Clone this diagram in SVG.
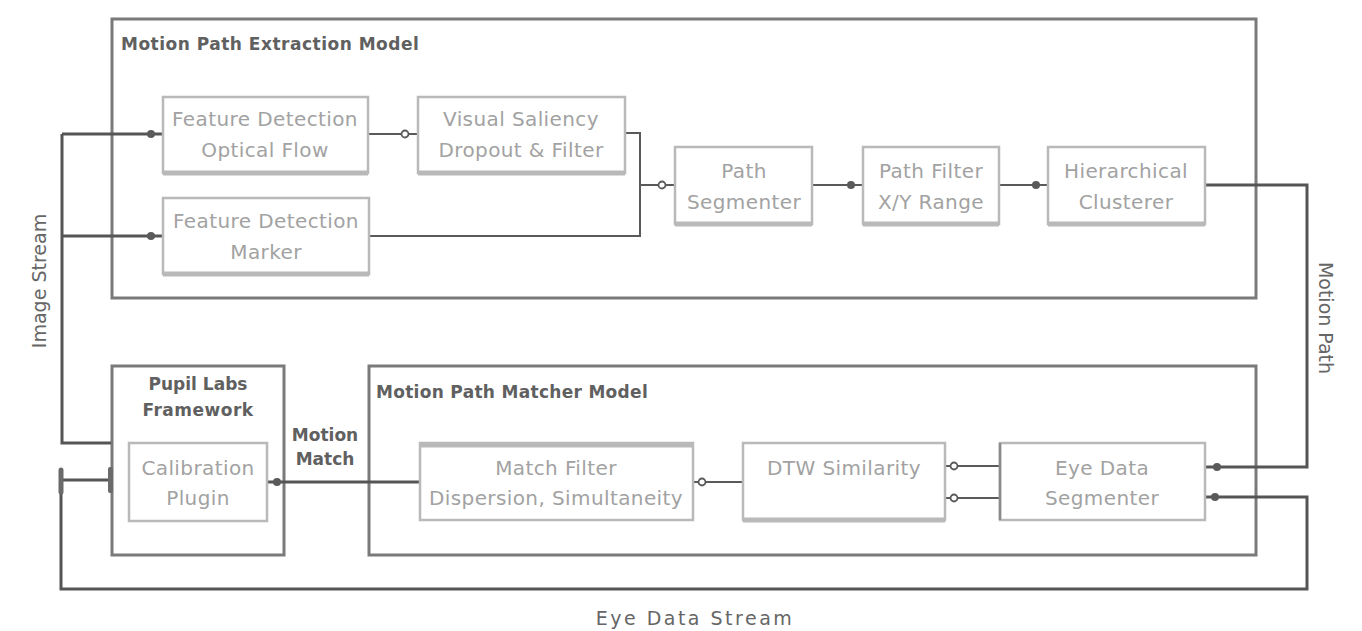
<svg xmlns="http://www.w3.org/2000/svg" width="1362" height="631" viewBox="0 0 1362 631">
  <style>
    .frame { fill: none; stroke: #7a7a7a; stroke-width: 3; }
    .block { fill: #ffffff; stroke: #b9b9b9; stroke-width: 2.5; }
    .shade { stroke: #b9b9b9; stroke-width: 5; }
    .title { font-family: "DejaVu Sans", "Liberation Sans", sans-serif; font-size: 17px; fill: #606060; font-weight: bold; }
    .label { font-family: "DejaVu Sans", "Liberation Sans", sans-serif; font-size: 20px; fill: #a2a2a2; text-anchor: middle; letter-spacing: 0.4px; }
    .side { font-family: "DejaVu Sans", "Liberation Sans", sans-serif; font-size: 19px; fill: #666666; text-anchor: middle; }
    .wire { fill: none; stroke: #5a5a5a; stroke-width: 2; }
    .wire-bold { fill: none; stroke: #555555; stroke-width: 3; }
  </style>
  <defs>
    <marker id="ball-open" viewBox="0 0 20 10" refX="20" refY="5" markerWidth="20" markerHeight="10" markerUnits="userSpaceOnUse" orient="auto">
      <circle cx="7" cy="5" r="3.5" fill="#ffffff" stroke="#5a5a5a" stroke-width="1.8"/>
    </marker>
    <marker id="ball-open-start" viewBox="0 0 20 10" refX="0" refY="5" markerWidth="20" markerHeight="10" markerUnits="userSpaceOnUse" orient="auto">
      <circle cx="9" cy="5" r="3.5" fill="#ffffff" stroke="#5a5a5a" stroke-width="1.8"/>
    </marker>
    <marker id="ball-fill" viewBox="0 0 20 10" refX="20" refY="5" markerWidth="20" markerHeight="10" markerUnits="userSpaceOnUse" orient="auto">
      <circle cx="8" cy="5" r="4" fill="#5a5a5a"/>
    </marker>
    <marker id="ball-fill-start" viewBox="0 0 20 10" refX="0" refY="5" markerWidth="20" markerHeight="10" markerUnits="userSpaceOnUse" orient="auto">
      <circle cx="10" cy="5" r="4" fill="#5a5a5a"/>
    </marker>
    <marker id="bar" viewBox="0 0 6 26" refX="3" refY="13" markerWidth="6" markerHeight="26" markerUnits="userSpaceOnUse" orient="auto">
      <rect x="0" y="0" width="5" height="26" rx="2" fill="#6a6a6a"/>
    </marker>
  </defs>

  <rect width="1362" height="631" fill="#ffffff"/>

  <!-- containers -->
  <g id="extraction-model">
    <rect class="frame" x="112" y="19" width="1144" height="279"/>
    <text class="title" x="121" y="50" letter-spacing="0.5">Motion Path Extraction Model</text>
  </g>
  <g id="matcher-model">
    <rect class="frame" x="369" y="366" width="887" height="189"/>
    <text class="title" x="376" y="398" letter-spacing="0.3">Motion Path Matcher Model</text>
  </g>
  <g id="pupil-labs">
    <rect class="frame" x="112" y="366" width="172" height="189" stroke-width="4"/>
    <text class="title" x="198" y="390" text-anchor="middle">Pupil Labs</text>
    <text class="title" x="198" y="416" text-anchor="middle" letter-spacing="0.5">Framework</text>
  </g>

  <!-- connectors -->
  <g id="connectors">
    <!-- image stream fan-out -->
    <path class="wire-bold" d="M62,134 V443 H111"/>
    <path class="wire-bold" d="M62,134 H163" marker-end="url(#ball-fill)"/>
    <path class="wire-bold" d="M62,236 H163" marker-end="url(#ball-fill)"/>
    <!-- extraction chain -->
    <path class="wire" d="M367,134 H418" marker-end="url(#ball-open)"/>
    <path class="wire" d="M625,133 H640 V236 H369"/>
    <path class="wire" d="M640,185 H675" marker-end="url(#ball-open)"/>
    <path class="wire" d="M812,185 H863" marker-end="url(#ball-fill)"/>
    <path class="wire" d="M999,185 H1048" marker-end="url(#ball-fill)"/>
    <!-- motion path feed -->
    <path class="wire-bold" d="M1205,185 H1307 V467 H1205" marker-end="url(#ball-fill)"/>
    <!-- eye data stream loop -->
    <path class="wire-bold" d="M1205,497 H1307 V589 H61 V480 H111" marker-start="url(#ball-fill-start)" marker-end="url(#bar)"/>
    <!-- matcher chain -->
    <path class="wire-bold" d="M267,482 H420" marker-start="url(#ball-fill-start)"/>
    <path class="wire" d="M693,482 H743" marker-start="url(#ball-open-start)"/>
    <path class="wire" d="M945,466 H1000" marker-start="url(#ball-open-start)"/>
    <path class="wire" d="M945,498 H1000" marker-start="url(#ball-open-start)"/>
    <!-- edge terminals -->
    <line x1="61" y1="470" x2="61" y2="492" stroke="#6a6a6a" stroke-width="5" stroke-linecap="round"/>
  </g>

  <!-- extraction blocks -->
  <g id="feature-optical-flow">
    <rect class="block" x="163" y="97" width="205" height="76"/>
    <line class="shade" x1="163" y1="173" x2="368" y2="173"/>
    <text class="label" x="265" y="126">Feature Detection</text>
    <text class="label" x="265" y="157">Optical Flow</text>
  </g>
  <g id="visual-saliency">
    <rect class="block" x="418" y="97" width="207" height="76"/>
    <line class="shade" x1="418" y1="173" x2="625" y2="173"/>
    <text class="label" x="521" y="126">Visual Saliency</text>
    <text class="label" x="521" y="157">Dropout &amp; Filter</text>
  </g>
  <g id="feature-marker">
    <rect class="block" x="163" y="198" width="206" height="76"/>
    <line class="shade" x1="163" y1="274" x2="369" y2="274"/>
    <text class="label" x="266" y="228">Feature Detection</text>
    <text class="label" x="266" y="259">Marker</text>
  </g>
  <g id="path-segmenter">
    <rect class="block" x="675" y="147" width="137" height="77"/>
    <line class="shade" x1="675" y1="224" x2="812" y2="224"/>
    <text class="label" x="744" y="178">Path</text>
    <text class="label" x="744" y="209">Segmenter</text>
  </g>
  <g id="path-filter">
    <rect class="block" x="863" y="147" width="136" height="77"/>
    <line class="shade" x1="863" y1="224" x2="999" y2="224"/>
    <text class="label" x="931" y="178">Path Filter</text>
    <text class="label" x="931" y="209">X/Y Range</text>
  </g>
  <g id="hierarchical-clusterer">
    <rect class="block" x="1048" y="147" width="157" height="77"/>
    <line class="shade" x1="1048" y1="224" x2="1205" y2="224"/>
    <text class="label" x="1126" y="178">Hierarchical</text>
    <text class="label" x="1126" y="209">Clusterer</text>
  </g>

  <!-- matcher blocks -->
  <g id="calibration-plugin">
    <rect class="block" x="129" y="443" width="138" height="78"/>
    <text class="label" x="198" y="475">Calibration</text>
    <text class="label" x="198" y="505">Plugin</text>
  </g>
  <g id="match-filter">
    <rect class="block" x="420" y="443" width="273" height="77"/>
    <line class="shade" x1="420" y1="445" x2="693" y2="445"/>
    <text class="label" x="556" y="475">Match Filter</text>
    <text class="label" x="556" y="505">Dispersion, Simultaneity</text>
  </g>
  <g id="dtw-similarity">
    <rect class="block" x="743" y="443" width="202" height="77"/>
    <line class="shade" x1="743" y1="520" x2="945" y2="520"/>
    <text class="label" x="844" y="475">DTW Similarity</text>
  </g>
  <g id="eye-data-segmenter">
    <rect class="block" x="1000" y="443" width="205" height="77"/>
    <line x1="1000" y1="443" x2="1000" y2="520" stroke="#8a8a8a" stroke-width="2.5"/>
    <text class="label" x="1102" y="475">Eye Data</text>
    <text class="label" x="1102" y="505">Segmenter</text>
  </g>

  <!-- stream labels -->
  <g id="stream-labels">
    <text class="title" x="325" y="441" text-anchor="middle">Motion</text>
    <text class="title" x="325" y="465" text-anchor="middle">Match</text>
    <text class="side" transform="translate(46,281) rotate(-90)">Image Stream</text>
    <text class="side" transform="translate(1319,318) rotate(90)">Motion Path</text>
    <text class="side" x="695" y="625" letter-spacing="2.5">Eye Data Stream</text>
  </g>
</svg>
